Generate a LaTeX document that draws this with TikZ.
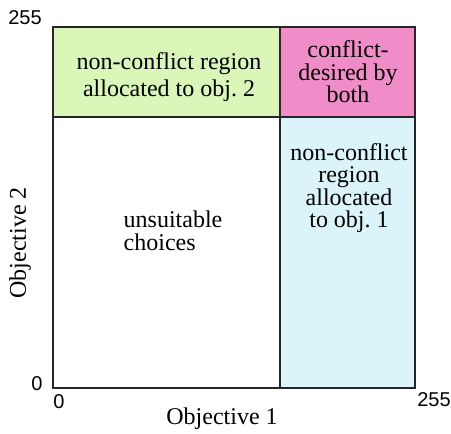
\documentclass[tikz,border=0pt]{standalone}
\usepackage{fontspec}
\setmainfont{Liberation Serif}
\newfontfamily\numfont{Liberation Sans}
\definecolor{regiongreen}{RGB}{218,246,184}
\definecolor{regionpink}{RGB}{240,140,200}
\definecolor{regioncyan}{RGB}{218,244,250}
\begin{document}
\begin{tikzpicture}[x=1pt,y=1pt,
  edge/.style={draw=black!85, line width=1.4pt},
  lbl/.style={font=\fontsize{24}{22.5}\selectfont, align=center, inner sep=0pt},
  num/.style={font=\numfont\fontsize{20}{22}\selectfont, inner sep=0pt}]
\useasboundingbox (0,0) rectangle (451,434);
\fill[white] (0,0) rectangle (451,434);
% regions
\coordinate (bl) at (53,46);
\coordinate (tr) at (415,407);
\fill[regiongreen] (53,317) rectangle (280,407);
\fill[regionpink] (280,317) rectangle (415,407);
\fill[regioncyan] (280,46) rectangle (415,317);
\draw[edge] (bl) rectangle (tr);
\draw[edge] (280,46) -- (280,407);
\draw[edge] (53,317) -- (415,317);
% labels
\node[lbl, font=\fontsize{24}{27}\selectfont] (g) at (169,357) {non-conflict region\\allocated to obj.\ 2};
\node[lbl, font=\fontsize{24}{22.5}\selectfont] (p) at (348,362) {conflict-\\desired by\\both};
\node[lbl] (c) at (349,246) {non-conflict\\region\\allocated\\to obj.\ 1};
\node[lbl, align=left] (u) at (173,203) {unsuitable\\choices};
\node[lbl] (x) at (222,15) {Objective 1};
\node[lbl, rotate=90] (y) at (20,191) {Objective 2};
\node[num] (n255t) at (25,416) {255};
\node[num] (n0l) at (37,50) {0};
\node[num] (n0b) at (59,32) {0};
\node[num] (n255b) at (434,34) {255};
\end{tikzpicture}
\end{document}
